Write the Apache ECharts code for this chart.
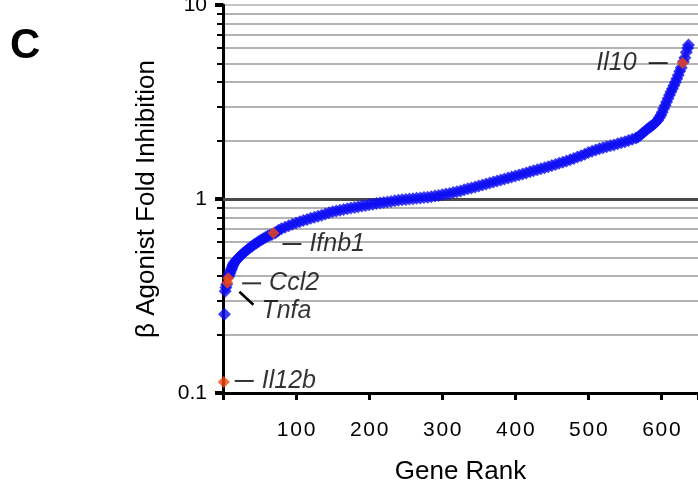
<!DOCTYPE html>
<html><head><meta charset="utf-8">
<script src="https://cdn.jsdelivr.net/npm/echarts@6/dist/echarts.min.js"></script>
<style>html,body{margin:0;padding:0;background:#fff}#c{width:698px;height:486px}</style>
</head><body><div id="c"></div>
<script>
// ---- data ----
const blueRanks = [2,3,4,5,8,9,10,11,12,13,14,15,17,19,21,23,25,28,31,34,37,40,43,46,49,52,55,58,61,64,67,71,73,76,80,85,90,95,100,105,110,115,120,125,130,135,140,145,150,155,160,165,170,175,180,185,190,195,200,205,210,215,220,225,230,235,240,245,250,255,260,265,270,275,280,285,290,295,300,305,310,315,320,325,330,335,340,345,350,355,360,365,370,375,380,385,390,395,400,405,410,415,420,425,430,435,440,445,450,455,460,465,470,475,480,485,490,495,500,505,510,515,520,525,530,535,540,545,550,555,560,565,568,571,574,577,580,583,586,589,592,595,597,599,601,603,605,607,609,611,613,615,617,619,621,623,625,627,630,632,634,636,637];
const blueValues = [0.255,0.335,0.35,0.362,0.40,0.41,0.42,0.43,0.44,0.45,0.46,0.468,0.478,0.488,0.497,0.506,0.515,0.527,0.538,0.55,0.562,0.573,0.584,0.594,0.604,0.615,0.624,0.633,0.642,0.65,0.657,0.668,0.675,0.69,0.702,0.716,0.728,0.74,0.752,0.763,0.774,0.785,0.795,0.805,0.815,0.825,0.837,0.85,0.86,0.868,0.876,0.884,0.891,0.898,0.905,0.912,0.919,0.926,0.933,0.94,0.947,0.954,0.96,0.966,0.972,0.978,0.984,0.99,0.995,1.0,1.004,1.008,1.012,1.017,1.021,1.027,1.035,1.043,1.051,1.06,1.069,1.08,1.09,1.1,1.115,1.128,1.14,1.153,1.166,1.18,1.194,1.208,1.222,1.237,1.252,1.267,1.282,1.297,1.313,1.329,1.346,1.363,1.38,1.397,1.414,1.432,1.45,1.468,1.487,1.507,1.527,1.548,1.57,1.593,1.618,1.645,1.672,1.7,1.735,1.765,1.79,1.815,1.838,1.86,1.88,1.9,1.925,1.95,1.975,2.0,2.03,2.06,2.09,2.13,2.18,2.23,2.28,2.33,2.37,2.42,2.48,2.55,2.62,2.7,2.8,2.92,3.03,3.16,3.3,3.44,3.57,3.7,3.85,4.0,4.17,4.35,4.55,4.75,5.1,5.35,5.7,6.0,6.22];
const geneNames = ['Il12b','Tnfa','Ccl2','Ifnb1','Il10'];
const geneRanks = [1,6,7,69,629];
const geneValues = [0.114,0.37,0.39,0.668,5.02];
const xTickLabels = ['100','200','300','400','500','600'];
const yTickLabels = ['0.1','1','10'];
const xTitle = 'Gene Rank';
const yTitle = '\u03B2 Agonist Fold Inhibition';
const panelLetter = 'C';

// ---- styles ----
const FONT = "'Liberation Sans', Arial, sans-serif";
const BLUE = '#0d0df2';
const RED = '#f5470f';
const txt = {fontSize: 25, fontStyle: 'italic', fontFamily: FONT, color: '#000'};
const dashRich = {
  d: {width: 19, height: 2, backgroundColor: '#000', verticalAlign: 'middle'},
  t: Object.assign({}, txt),
  tl: Object.assign({padding: [0, 0, 0, 8]}, txt),
  tr: Object.assign({padding: [0, 12, 0, 0]}, txt)
};
const labelStyles = {
  Il12b: {position: 'right', distance: 5, offset: [0, -1], fmt: n => '{d|}{tl|' + n + '}'},
  Tnfa:  {position: 'right', distance: 4, offset: [24, 28], fmt: n => '{t|' + n + '}'},
  Ccl2:  {position: 'right', distance: 8, offset: [0, 5], fmt: n => '{d|}{tl|' + n + '}'},
  Ifnb1: {position: 'right', distance: 3, offset: [0, 11], fmt: n => '{d|}{tl|' + n + '}'},
  Il10:  {position: 'left', distance: 9, offset: [0, 0], fmt: n => '{tr|' + n + '}{d|}'}
};

const blueData = blueRanks.map((r, i) => [r, blueValues[i]]);
const geneData = geneNames.map((n, i) => {
  const s = labelStyles[n];
  return {
    name: n,
    value: [geneRanks[i], geneValues[i]],
    label: {show: true, position: s.position, distance: s.distance, offset: s.offset,
            color: '#000', formatter: s.fmt(n), rich: dashRich}
  };
});

function xLabel(v) {
  const k = Math.round(v / 100) - 1;
  if (v % 100 !== 0 || k < 0 || k >= xTickLabels.length) return '';
  return xTickLabels[k].split('').join('\u200A');
}
function yLabel(v) {
  const k = Math.round(Math.log10(v)) + 1;
  return yTickLabels[k] || '';
}

const chart = echarts.init(document.getElementById('c'), null, {renderer: 'canvas'});
chart.setOption({
  animation: false,
  backgroundColor: '#fff',
  title: {text: panelLetter, left: 5, top: 20,
          textStyle: {fontSize: 42, fontWeight: 'bold', fontFamily: FONT, color: '#000'}},
  grid: {left: 223, right: 0, top: 5, bottom: 93, containLabel: false, outerBoundsMode: 'none'},
  xAxis: {
    type: 'value', min: 0, max: 650, interval: 100,
    name: xTitle, nameLocation: 'middle', nameGap: 66,
    nameTextStyle: {fontSize: 26, fontFamily: FONT, color: '#000'},
    axisLine: {show: true, onZero: false, lineStyle: {color: '#000', width: 3}},
    axisTick: {show: true, inside: false, length: 7, lineStyle: {color: '#000', width: 3}},
    axisLabel: {margin: 27, fontSize: 21, fontFamily: FONT, color: '#000', formatter: xLabel},
    splitLine: {show: false}
  },
  yAxis: {
    type: 'log', logBase: 10, min: 0.1, max: 10,
    name: yTitle, nameLocation: 'middle', nameGap: 63,
    nameTextStyle: {fontSize: 26, fontFamily: FONT, color: '#000'},
    axisLine: {show: true, lineStyle: {color: '#000', width: 3}},
    axisTick: {show: true, length: 8, lineStyle: {color: '#000', width: 4}},
    minorTick: {show: true, splitNumber: 9, length: 6, lineStyle: {color: '#000', width: 2}},
    axisLabel: {margin: 16, fontSize: 21, fontFamily: FONT, color: '#000', formatter: yLabel},
    splitLine: {show: true, lineStyle: {color: '#b0b0b0', width: 1.5}},
    minorSplitLine: {show: true, lineStyle: {color: '#9a9a9a', width: 1.5}}
  },
  series: [
    {
      type: 'scatter', data: blueData, symbol: 'diamond', symbolSize: 13,
      itemStyle: {color: BLUE}, z: 3,
      markLine: {silent: true, symbol: 'none', label: {show: false},
                 lineStyle: {color: '#4a4a4a', width: 3, type: 'solid'},
                 data: [{yAxis: 1}], z: 1}
    },
    {
      type: 'scatter', data: geneData, symbol: 'diamond', symbolSize: 12,
      itemStyle: {color: RED}, z: 4
    }
  ]
});

// Tnfa leader line, positioned from the library's coordinate conversion
const ti = geneNames.indexOf('Tnfa');
const p = chart.convertToPixel({seriesIndex: 1}, [geneRanks[ti], geneValues[ti]]);
chart.setOption({graphic: [{type: 'line', silent: true,
  shape: {x1: p[0] + 12, y1: p[1] + 9, x2: p[0] + 26, y2: p[1] + 22},
  style: {stroke: '#000', lineWidth: 2.5}}]});
</script></body></html>
